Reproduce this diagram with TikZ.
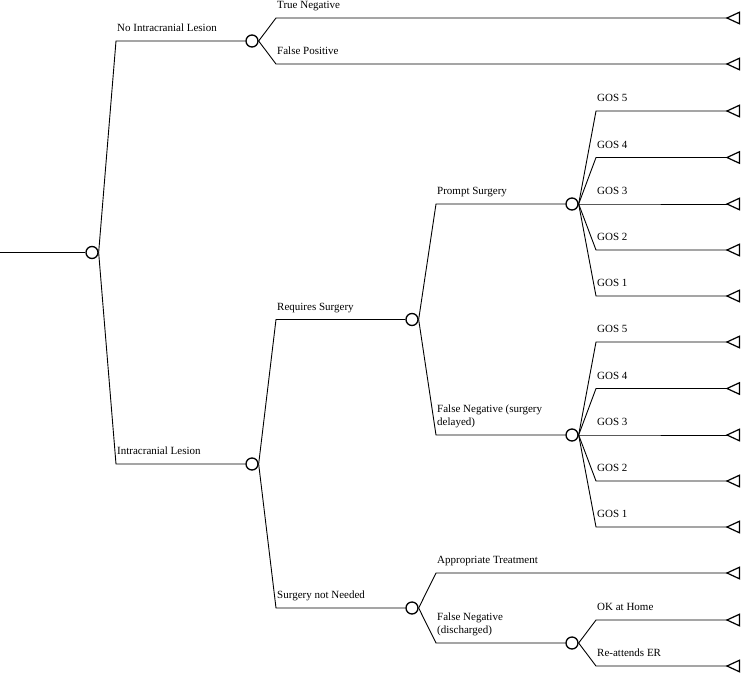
\documentclass[tikz,border=0pt]{standalone}
\usepackage{fontspec}
\setmainfont{Liberation Serif}
\newcommand\termtri[1]{\draw[term] (#1) -- ++(12.5,-5.8) -- ++(0,11.6) -- cycle;}
\begin{document}
\begin{tikzpicture}[x=1pt,y=-1pt,
  chance/.style={circle,draw,line width=1.3pt,fill=white,minimum size=12pt,inner sep=0pt},
  br/.style={line width=0.9pt},
  term/.style={line width=1.2pt,line join=miter},
  lbl/.style={anchor=base west,inner sep=0pt,font=\fontsize{11}{13}\selectfont}]
\useasboundingbox (0,0) rectangle (741,675);
% root
\coordinate (s) at (0,252.5);
\node[chance] (c0) at (92,252.5) {};
\draw[br] (s) -- (c0.west);
% No intracranial lesion
\coordinate (e1) at (116,41);
\node[chance] (c1) at (252,41) {};
\draw[br] (c0.east) -- (e1) -- (c1.west);
\path (e1) ++(1,-9.5) node[lbl] (l1) {No Intracranial Lesion};
\coordinate (e11) at (276,18); \coordinate (t11) at (727,18);
\coordinate (e12) at (276,64); \coordinate (t12) at (727,64);
\draw[br] (c1.east) -- (e11) -- (t11);
\draw[br] (c1.east) -- (e12) -- (t12);
\path (e11) ++(1,-9.5) node[lbl] (l11) {True Negative};
\path (e12) ++(1,-9.5) node[lbl] (l12) {False Positive};
\termtri{t11}\termtri{t12}
% Intracranial lesion
\coordinate (e2) at (116,464);
\node[chance] (c2) at (252,464) {};
\draw[br] (c0.east) -- (e2) -- (c2.west);
\path (e2) ++(1,-9.5) node[lbl] (l2) {Intracranial Lesion};
% Requires surgery
\coordinate (e21) at (276,319.5);
\node[chance] (c3) at (412,319.5) {};
\draw[br] (c2.east) -- (e21) -- (c3.west);
\path (e21) ++(1,-9.5) node[lbl] (l21) {Requires Surgery};
% Prompt surgery
\coordinate (e211) at (436,204);
\node[chance] (c4) at (572,204) {};
\draw[br] (c3.east) -- (e211) -- (c4.west);
\path (e211) ++(1,-9.5) node[lbl] (l211) {Prompt Surgery};
\foreach \i/\y in {5/111,4/157.5,3/204,2/250,1/296}{
  \coordinate (ga\i) at (596,\y);
  \coordinate (gat\i) at (727,\y);
  \draw[br] (c4.east) -- (ga\i) -- (gat\i);
  \path (ga\i) ++(1,-9.5) node[lbl] (lga\i) {GOS \i};
  \termtri{gat\i}
}
% False negative (surgery delayed)
\coordinate (e212) at (436,435);
\node[chance] (c5) at (572,435) {};
\draw[br] (c3.east) -- (e212) -- (c5.west);
\path (e212) ++(1,-9.5) node[lbl] (l212) {\begin{tabular}[b]{@{}l@{}}False Negative (surgery\\delayed)\end{tabular}};
\foreach \i/\y in {5/342,4/388.5,3/435,2/481,1/527}{
  \coordinate (gb\i) at (596,\y);
  \coordinate (gbt\i) at (727,\y);
  \draw[br] (c5.east) -- (gb\i) -- (gbt\i);
  \path (gb\i) ++(1,-9.5) node[lbl] (lgb\i) {GOS \i};
  \termtri{gbt\i}
}
% Surgery not needed
\coordinate (e22) at (276,608);
\node[chance] (c6) at (412,608) {};
\draw[br] (c2.east) -- (e22) -- (c6.west);
\path (e22) ++(1,-9.5) node[lbl] (l22) {Surgery not Needed};
\coordinate (e221) at (436,573); \coordinate (t221) at (727,573);
\draw[br] (c6.east) -- (e221) -- (t221);
\path (e221) ++(1,-9.5) node[lbl] (l221) {Appropriate Treatment};
\termtri{t221}
\coordinate (e222) at (436,643);
\node[chance] (c7) at (572,643) {};
\draw[br] (c6.east) -- (e222) -- (c7.west);
\path (e222) ++(1,-9.5) node[lbl] (l222) {\begin{tabular}[b]{@{}l@{}}False Negative\\(discharged)\end{tabular}};
\coordinate (e2221) at (596,620); \coordinate (t2221) at (727,620);
\coordinate (e2222) at (596,666); \coordinate (t2222) at (727,666);
\draw[br] (c7.east) -- (e2221) -- (t2221);
\draw[br] (c7.east) -- (e2222) -- (t2222);
\path (e2221) ++(1,-9.5) node[lbl] (l2221) {OK at Home};
\path (e2222) ++(1,-9.5) node[lbl] (l2222) {Re-attends ER};
\termtri{t2221}\termtri{t2222}
\end{tikzpicture}
\end{document}
